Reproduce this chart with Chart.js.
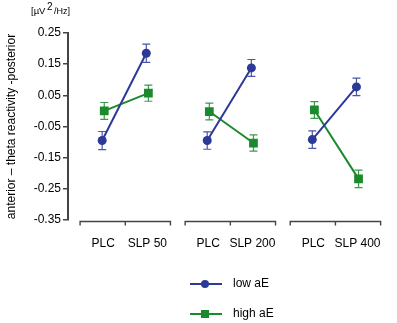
<!DOCTYPE html>
<html>
<head>
<meta charset="utf-8">
<script src="https://cdn.jsdelivr.net/npm/chart.js@4.4.0/dist/chart.umd.min.js"></script>
<style>
  html, body { margin: 0; padding: 0; background: #fff; }
  canvas { display: block; }
</style>
</head>
<body>
<canvas id="thetaChart" width="397" height="323"></canvas>
<script>
// categories (two per panel) and the three panels
const categories = ['PLC', 'SLP 50', 'PLC', 'SLP 200', 'PLC', 'SLP 400'];
const panels = ['SLP 50', 'SLP 200', 'SLP 400'];

// means and error bars
const lowAE = [-0.095, 0.185, -0.095, 0.138, -0.092, 0.077];
const lowAEErr = [0.029, 0.029, 0.028, 0.027, 0.028, 0.028];
const highAE = [0.000, 0.057, -0.002, -0.103, 0.003, -0.218];
const highAEErr = [0.027, 0.026, 0.027, 0.026, 0.027, 0.028];

const yTicks = [0.25, 0.15, 0.05, -0.05, -0.15, -0.25, -0.35];

const BLUE = '#2b3a98';
const GREEN = '#1b8a2c';
const AXIS = '#444444';

Chart.defaults.font.family = '"Liberation Sans", Arial, Helvetica, sans-serif';
Chart.defaults.color = '#000';

// x position of a category: panel index plus offset inside the panel
function catX(i, shift) {
    const g = Math.floor(i / 2);
    return g + (i % 2 ? 0.21 : -0.21) + shift;
}

// build line points, with a gap between panels so lines don't join
function buildPoints(values, errs, shift) {
    const pts = [];
    values.forEach((v, i) => {
        pts.push({ x: catX(i, shift), y: v, err: errs[i] });
        if (i % 2 === 1 && i < values.length - 1) {
            pts.push({ x: Math.floor(i / 2) + 0.5, y: null });
        }
    });
    return pts;
}

// error bars under the markers
const errorBars = {
    id: 'errorBars',
    beforeDatasetsDraw(chart) {
        const ctx = chart.ctx;
        const yScale = chart.scales.y;
        chart.data.datasets.forEach((ds, di) => {
            const meta = chart.getDatasetMeta(di);
            ctx.save();
            ctx.strokeStyle = ds.errColor;
            ctx.lineWidth = 1.2;
            meta.data.forEach((el, j) => {
                const p = ds.data[j];
                if (p.y === null) return;
                const x = el.x;
                const top = yScale.getPixelForValue(p.y + p.err);
                const bot = yScale.getPixelForValue(p.y - p.err);
                ctx.beginPath();
                ctx.moveTo(x, top); ctx.lineTo(x, bot);
                ctx.moveTo(x - 4, top); ctx.lineTo(x + 4, top);
                ctx.moveTo(x - 4, bot); ctx.lineTo(x + 4, bot);
                ctx.stroke();
            });
            ctx.restore();
        });
    }
};

// panel brackets below the plot, units label, legend
const extras = {
    id: 'extras',
    afterDraw(chart) {
        const ctx = chart.ctx;
        const xs = chart.scales.x;
        const yb = chart.chartArea.bottom + 1.5;
        ctx.save();
        ctx.strokeStyle = AXIS;
        ctx.lineWidth = 1.4;
        panels.forEach((p, g) => {
            const l = xs.getPixelForValue(g - 0.43);
            const m = xs.getPixelForValue(g);
            const r = xs.getPixelForValue(g + 0.43);
            ctx.beginPath();
            ctx.moveTo(l, yb + 4); ctx.lineTo(l, yb); ctx.lineTo(r, yb); ctx.lineTo(r, yb + 4);
            ctx.moveTo(m, yb); ctx.lineTo(m, yb + 4);
            ctx.stroke();
        });

        // units
        ctx.fillStyle = '#000';
        ctx.textBaseline = 'alphabetic';
        ctx.font = '9.5px "Liberation Sans", Arial, sans-serif';
        ctx.fillText('[µV', 31, 14);
        let w = ctx.measureText('[µV').width;
        ctx.font = '10px "Liberation Sans", Arial, sans-serif';
        ctx.fillText('2', 31 + w + 1.5, 10);
        let w2 = ctx.measureText('2').width;
        ctx.font = '9px "Liberation Sans", Arial, sans-serif';
        ctx.fillText('/Hz]', 31 + w + w2 + 3, 14);

        // legend
        const rows = [284, 314];
        chart.data.datasets.forEach((ds, i) => {
            const y = rows[i];
            ctx.strokeStyle = ds.borderColor;
            ctx.lineWidth = 2;
            ctx.beginPath();
            ctx.moveTo(190, y); ctx.lineTo(222, y);
            ctx.stroke();
            ctx.fillStyle = ds.borderColor;
            if (ds.pointStyle === 'rect') {
                ctx.fillRect(201, y - 4, 8, 8);
            } else {
                ctx.beginPath();
                ctx.arc(205, y, 4, 0, Math.PI * 2);
                ctx.fill();
            }
            ctx.fillStyle = '#000';
            ctx.font = '12px "Liberation Sans", Arial, sans-serif';
            ctx.textBaseline = 'middle';
            ctx.fillText(ds.label, 233, y);
        });
        ctx.restore();
    }
};

const xTickValues = categories.map((c, i) => catX(i, 0));

new Chart(document.getElementById('thetaChart'), {
    type: 'line',
    data: {
        datasets: [{
            label: 'low aE',
            data: buildPoints(lowAE, lowAEErr, -0.01),
            borderColor: BLUE,
            backgroundColor: BLUE,
            errColor: '#4a56a8',
            borderWidth: 2,
            pointStyle: 'circle',
            pointRadius: 4.5,
            pointBorderWidth: 0,
            spanGaps: false
        }, {
            label: 'high aE',
            data: buildPoints(highAE, highAEErr, 0.01),
            borderColor: GREEN,
            backgroundColor: GREEN,
            errColor: '#3a9a48',
            borderWidth: 2,
            pointStyle: 'rect',
            pointRadius: 6.2,
            pointBorderWidth: 0,
            spanGaps: false
        }]
    },
    options: {
        responsive: false,
        animation: false,
        layout: { padding: { top: 33, right: 0, bottom: 63, left: 0 } },
        plugins: {
            legend: { display: false },
            tooltip: { enabled: false }
        },
        scales: {
            x: {
                type: 'linear',
                min: -0.545,
                max: 2.445,
                afterBuildTicks(scale) {
                    scale.ticks = xTickValues.map(v => ({ value: v }));
                },
                afterFit(scale) { scale.height = 40; },
                grid: { display: false, drawTicks: false },
                border: { display: false },
                ticks: {
                    padding: 16,
                    autoSkip: false,
                    maxRotation: 0,
                    font: { size: 12 },
                    callback: (v, i) => categories[i]
                }
            },
            y: {
                min: -0.35,
                max: 0.25,
                afterBuildTicks(scale) {
                    scale.ticks = yTicks.map(v => ({ value: v }));
                },
                afterFit(scale) { scale.width = 68; },
                border: { display: true, color: AXIS, width: 2 },
                grid: {
                    display: true,
                    drawOnChartArea: false,
                    drawTicks: true,
                    tickLength: 5,
                    color: AXIS,
                    lineWidth: 1.5
                },
                ticks: {
                    padding: 2,
                    font: { size: 12 },
                    callback: v => v.toFixed(2)
                },
                title: {
                    display: true,
                    text: 'anterior – theta reactivity -posterior',
                    font: { size: 12 },
                    padding: { top: 4, bottom: 0 }
                }
            }
        }
    },
    plugins: [errorBars, extras]
});
</script>
</body>
</html>
